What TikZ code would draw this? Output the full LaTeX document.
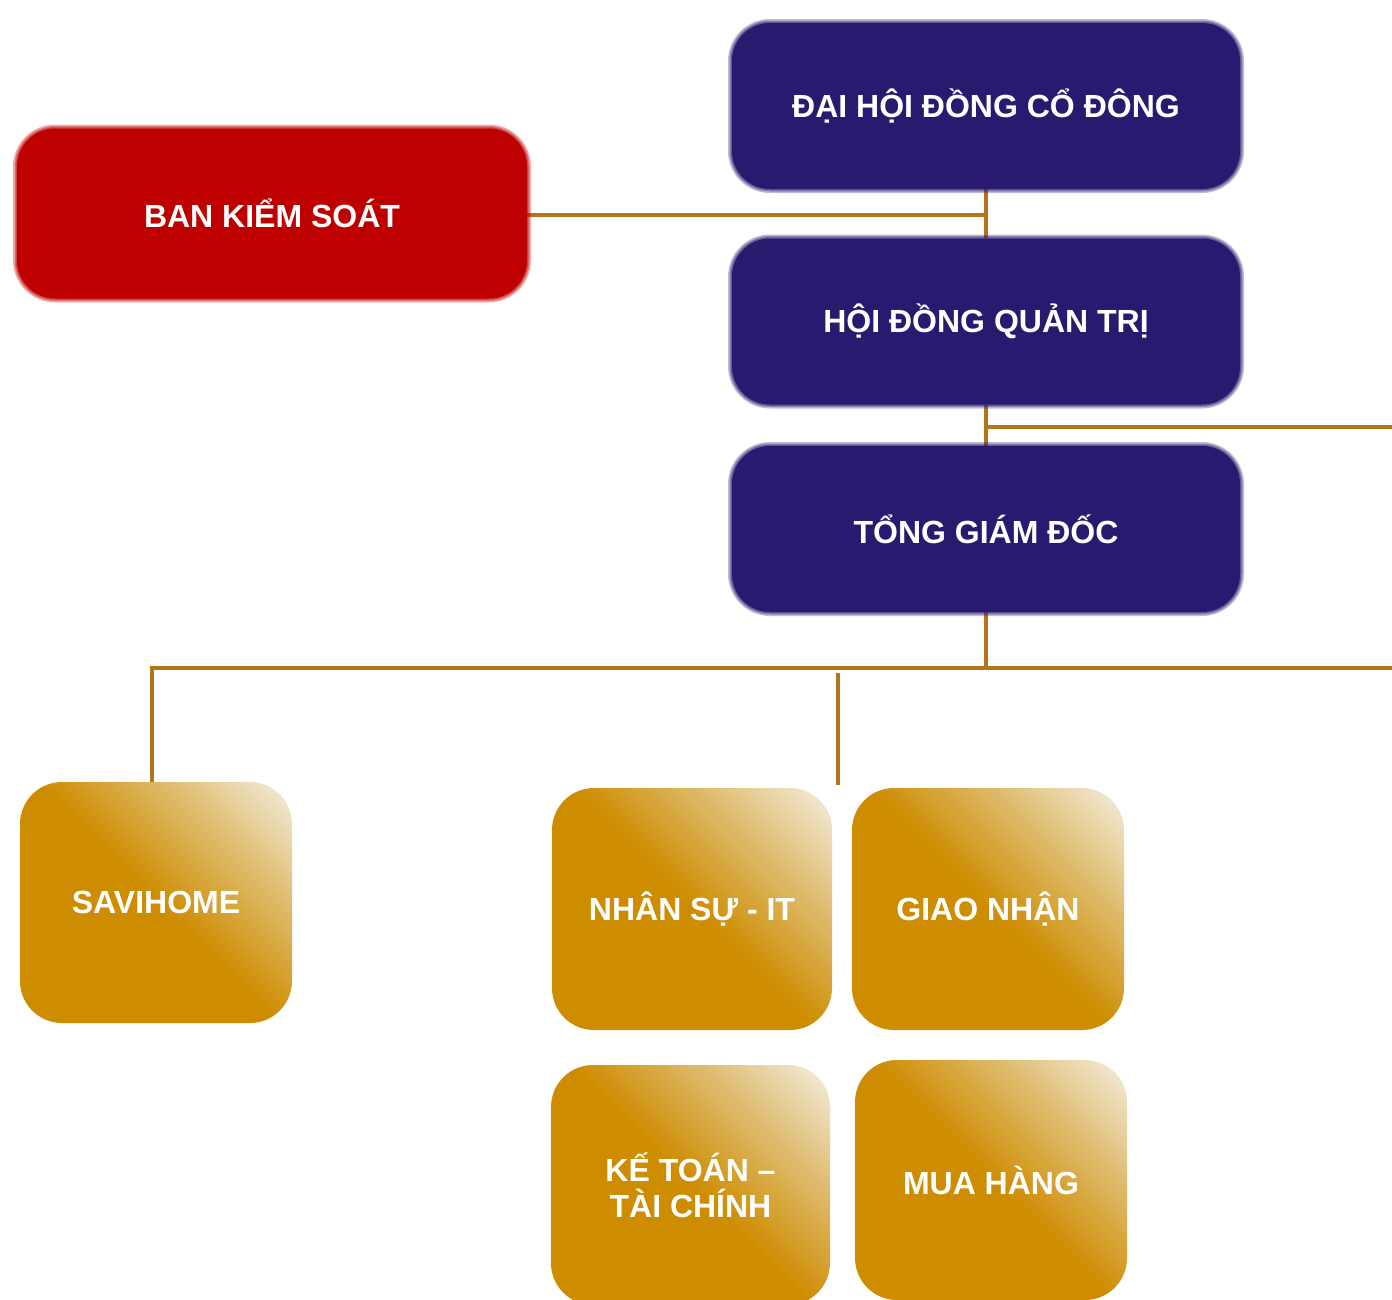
\documentclass[tikz,border=0pt]{standalone}
\usepackage{fontspec}
\setmainfont{Liberation Sans}
\pgfdeclarelayer{bg}
\pgfsetlayers{bg,main}
\definecolor{navy}{RGB}{41,26,112}
\definecolor{bksred}{RGB}{190,0,0}
\definecolor{linec}{RGB}{180,116,26}
\definecolor{gold}{RGB}{206,140,0}
\definecolor{goldmid}{RGB}{222,188,110}
\definecolor{goldlight}{RGB}{245,241,230}
\pgfdeclarehorizontalshading{goldsh}{100bp}{color(0bp)=(gold); color(50bp)=(gold); color(68bp)=(goldmid); color(86bp)=(goldlight); color(100bp)=(goldlight)}
\tikzset{
  txt/.style={text=white, font=\bfseries\fontsize{32}{36}\selectfont, align=center, inner sep=0pt},
  blurbox/.style={txt, rounded corners=38pt, minimum width=508pt, minimum height=166pt, fill=#1,
    preaction={draw=#1, draw opacity=0.3, line width=8pt},
    preaction={draw=#1, draw opacity=0.35, line width=5pt},
    preaction={draw=#1, draw opacity=0.4, line width=2.5pt}},
  goldbox/.style={txt, rounded corners=42pt, shade, shading=goldsh, shading angle=45},
  conn/.style={draw=linec, line width=4.5pt}
}
\begin{document}
\begin{tikzpicture}[x=1pt,y=-1pt]
\useasboundingbox (0,0) rectangle (1392,1299);
\clip (0,0) rectangle (1392,1299);

\node[blurbox=navy] (dh) at (986,106) {ĐẠI HỘI ĐỒNG CỔ ĐÔNG};
\node[blurbox=bksred, minimum width=510pt, minimum height=170pt] (bks) at (272,213.5) {BAN KIỂM SOÁT};
\node[blurbox=navy] (hd) at (986,321.5) {HỘI ĐỒNG QUẢN TRỊ};
\node[blurbox=navy] (tg) at (986,529) {TỔNG GIÁM ĐỐC};

\node[goldbox, minimum width=272pt, minimum height=241pt] (sav) at (156,902.5) {SAVIHOME};
\node[goldbox, minimum width=280pt, minimum height=242pt] (ns) at (692,909) {NHÂN SỰ - IT};
\node[goldbox, minimum width=272pt, minimum height=242pt] (gn) at (988,909) {GIAO NHẬN};
\node[goldbox, minimum width=279pt, minimum height=240pt] (kt) at (690.5,1185) {KẾ TOÁN –\\TÀI CHÍNH};
\node[goldbox, minimum width=272pt, minimum height=240pt] (mh) at (991,1180) {MUA HÀNG};

\coordinate (r1) at (1392,427);
\coordinate (busR) at (1392,668);
\coordinate (busY) at (986,668);
\coordinate (stubTop) at (838,673);
\coordinate (stubBot) at (838,785);

\begin{pgfonlayer}{bg}
\draw[conn] (dh.south) -- (hd.north);
\draw[conn] (hd.south) -- (tg.north);
\draw[conn] (bks.east |- 0,215) -- (dh.south |- 0,215);
\draw[conn] (r1 -| hd.south) -- (r1);
\draw[conn] (tg.south) -- (busY);
\draw[conn] ([xshift=-4pt]sav.north) |- (busR);
\draw[conn] (stubTop) -- (stubBot);
\end{pgfonlayer}
\end{tikzpicture}
\end{document}
